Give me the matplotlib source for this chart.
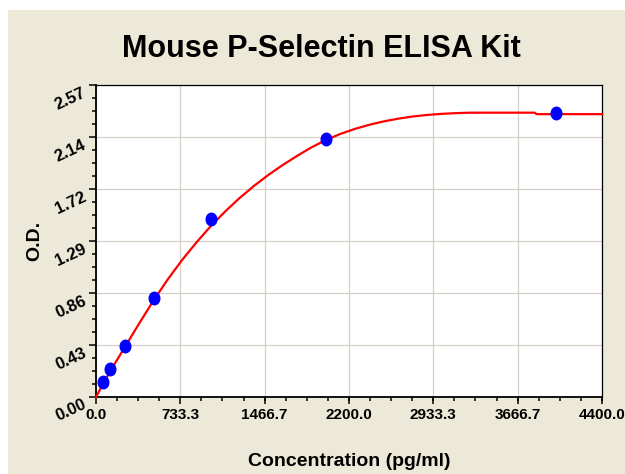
import numpy as np
import matplotlib
matplotlib.use('Agg')
import matplotlib.pyplot as plt
from matplotlib.ticker import AutoMinorLocator
from matplotlib.patches import Rectangle
from matplotlib.path import Path
from matplotlib.transforms import Affine2D

# standards
conc = [62.5, 125, 250, 500, 1000, 2000, 4000]
od = [0.122, 0.228, 0.42, 0.812, 1.467, 2.125, 2.337]

# fitted curve
curve_x = [0, 62.5, 125, 250, 375, 500, 625, 750, 875, 1000, 1125, 1250, 1375, 1500,
           1625, 1750, 1875, 2000, 2125, 2250, 2375, 2500, 2625, 2750, 2875, 3000,
           3125, 3250, 3815, 3830, 4400]
curve_y = [0, 0.11, 0.215, 0.41, 0.605, 0.795, 0.97, 1.13, 1.275, 1.41, 1.53, 1.64, 1.74,
           1.83, 1.912, 1.987, 2.057, 2.117, 2.167, 2.208, 2.242, 2.27, 2.292, 2.31, 2.323,
           2.332, 2.338, 2.342, 2.342, 2.33, 2.33]

x_ticks = [0, 733.3, 1466.7, 2200.0, 2933.3, 3666.7, 4400.0]
x_labels = ['0.0', '733.3', '1466.7', '2200.0', '2933.3', '3666.7', '4400.0']
y_labels = ['0.00', '0.43', '0.86', '1.29', '1.72', '2.14', '2.57']

plt.rcParams['font.family'] = ['Liberation Sans', 'DejaVu Sans']
plt.rcParams['font.weight'] = 'bold'

fig = plt.figure(figsize=(6.25, 4.74), dpi=100)
fig.patch.set_facecolor('white')
# beige panel (white strip left and top)
fig.patches.append(Rectangle((8 / 625, 0), 1, 1 - 10 / 474, transform=fig.transFigure,
                             facecolor='#ECE9D8', edgecolor='none', zorder=-10))

ax = fig.add_axes([96 / 625, 1 - 397 / 474, 506 / 625, 312 / 474])
ax.set_facecolor('white')

ax.set_xlim(0, 4400)
ax.set_ylim(0, 2.57)
ax.set_xticks(x_ticks)
ax.set_xticklabels(x_labels, fontsize=11, fontweight='bold')
ax.set_yticks(np.linspace(0, 2.57, len(y_labels)))
ax.set_yticklabels(y_labels, fontsize=12, fontweight='bold', rotation=25,
                   ha='right', va='top', rotation_mode='anchor')
ax.xaxis.set_minor_locator(AutoMinorLocator(4))
ax.yaxis.set_minor_locator(AutoMinorLocator(4))
ax.tick_params(which='major', direction='out', length=5, width=1.1, pad=3)
ax.tick_params(which='minor', direction='out', length=3, width=1.1)
ax.tick_params(axis='y', which='major', pad=5)

ax.grid(True, which='major', color='#D4D0C8', lw=0.9)
ax.set_axisbelow(True)
for s in ['left', 'bottom']:
    ax.spines[s].set_linewidth(1.3)
for s in ['top', 'right']:
    ax.spines[s].set_linewidth(0.9)

ax.plot(curve_x, curve_y, color='#FF0000', lw=1.6, zorder=3, clip_on=False)
ell = Path.unit_circle().transformed(Affine2D().scale(0.85, 1.0))
ax.plot(conc, od, linestyle='none', marker=ell, ms=9, color='#0000FF',
        markeredgecolor='#0000FF', zorder=4)

ax.set_xlabel('Concentration (pg/ml)', fontsize=14, fontweight='bold')
ax.xaxis.set_label_coords(0.5, -0.18)
ax.set_ylabel('O.D.', fontsize=14, fontweight='bold')
ax.yaxis.set_label_coords(-0.105, 0.5)

fig.text(0.514, 0.897, 'Mouse P-Selectin ELISA Kit', fontsize=22, fontweight='bold',
         ha='center', va='center')

fig.savefig('out.png', dpi=100, facecolor=fig.get_facecolor())
